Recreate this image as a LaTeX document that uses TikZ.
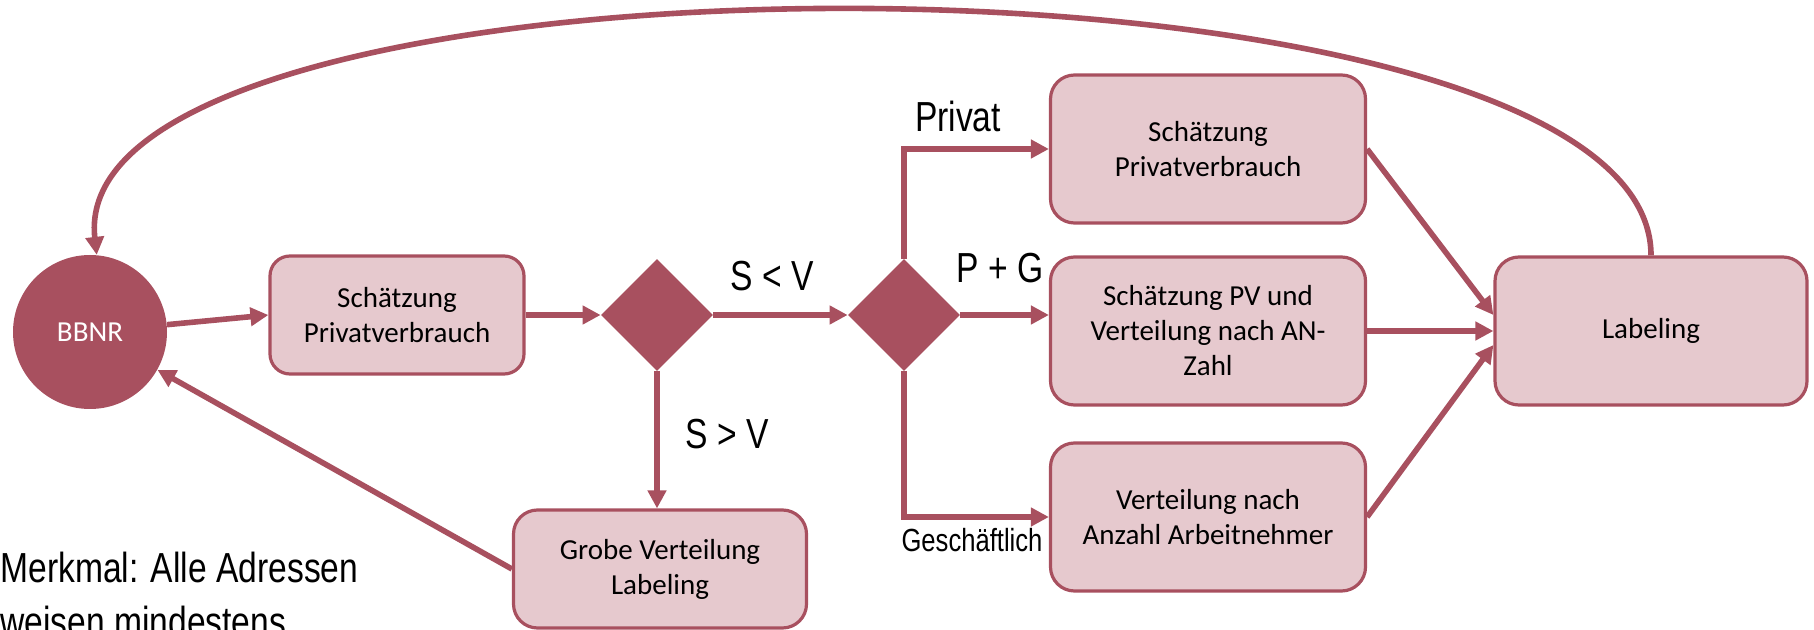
\documentclass[tikz,border=0pt]{standalone}
\usepackage{fontspec}
\setmainfont{Carlito}
\newfontfamily\labelfont[FakeStretch=0.8]{Liberation Sans}
\usepackage{tikz}
\usetikzlibrary{shapes.geometric}
\usetikzlibrary{arrows.meta}
\definecolor{rosedark}{RGB}{168,80,95}
\definecolor{roselight}{RGB}{230,201,206}

\begin{document}
\begin{tikzpicture}[x=0.5pt, y=-0.5pt, >={Triangle[length=9pt,width=9pt]},
        box/.style={draw=rosedark, fill=roselight, line width=1.6pt, rounded corners=12pt, align=center, inner sep=2pt, font=\fontsize{14.5}{17.5}\selectfont},
        decision/.style={diamond, fill=rosedark, minimum size=56pt, inner sep=0pt},
        conn/.style={rosedark, line width=2.8pt},
        lbl/.style={inner sep=0pt, font=\labelfont\fontsize{21}{25}\selectfont}]
        \clip (0,0) rectangle (1814,630);
        \node[circle, fill=rosedark, text=white, minimum size=77pt, inner sep=0pt, font=\fontsize{14.5}{17.5}\selectfont] (bbnr) at (90,332){BBNR};
        \node[box, rounded corners=10pt, minimum width=127pt, minimum height=59pt] (schaetzung) at (397,315){Schätzung\\Privatverbrauch};
        \node[decision] (d1) at (657,315){};
        \node[decision] (d2) at (904,315){};
        \node[box, minimum width=146.5pt, minimum height=59pt] (grob) at (660,569){Grobe Verteilung\\Labeling};
        \node[box, minimum width=157.5pt, minimum height=74pt] (privat) at (1208,149){Schätzung\\Privatverbrauch};
        \node[box, minimum width=157.5pt, minimum height=74pt] (pvan) at (1208,331){Schätzung PV und\\Verteilung nach AN-\\Zahl};
        \node[box, minimum width=157.5pt, minimum height=74pt] (anzahl) at (1208,517){Verteilung nach\\Anzahl Arbeitnehmer};
        \node[box, minimum width=156pt, minimum height=74pt] (labeling) at (1651,331){Labeling};
        %labels
        \node[lbl] (kleiner) at (772,276){S < V};
        \node[lbl] (groesser) at (727,434){S > V};
        \node[lbl] (lprivat) at (958,116){Privat};
        \node[lbl] (lpg) at (1000,268){P + G};
        \node[lbl, font=\labelfont\fontsize{16}{19}\selectfont] (lgesch) at (972,540){Geschäftlich};
        \node[lbl, anchor=base west, align=left, font=\labelfont\fontsize{21}{27}\selectfont] (merkmal) at (0,636){Merkmal: Alle Adressen\\weisen mindestens};
        %arrows
        \draw[conn, ->] (bbnr) -- (schaetzung.west);
        \draw[conn, ->] (schaetzung.east) -- (d1.west);
        \draw[conn, ->] (d1.east) -- (d2.west);
        \draw[conn, ->] (d1.south) -- (d1.south |- grob.north);
        \draw[conn, ->] (grob.west) -- (bbnr);
        \draw[conn, ->] (d2.north) |- (privat.west);
        \draw[conn, ->] (d2.east) -- (d2.east -| pvan.west);
        \draw[conn, ->] (d2.south) |- (anzahl.west);
        %to labeling
        \draw[conn, ->] (privat.east) -- ([yshift=8pt]labeling.west);
        \draw[conn, ->] (pvan.east) -- (labeling.west);
        \draw[conn, ->] (anzahl.east) -- ([yshift=-7pt]labeling.west);
        \draw[conn, ->] (labeling.north) .. controls (1651,-71) and (60,-71) .. (bbnr.85);
    \end{tikzpicture}
\end{document}
